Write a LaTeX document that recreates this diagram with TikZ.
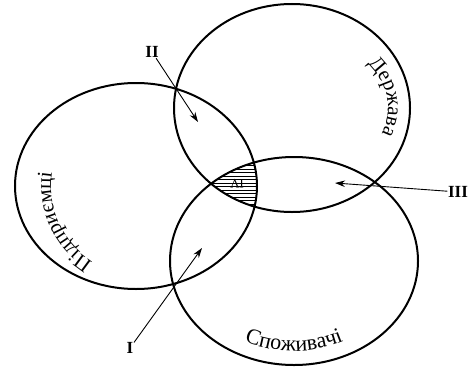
\documentclass[tikz,border=0pt]{standalone}
\usepackage{fontspec}
\setmainfont{Liberation Serif}
\usetikzlibrary{decorations.text,arrows.meta}
\begin{document}
\begin{tikzpicture}[x=1pt,y=1pt,
  venn/.style={line width=2pt},
  pointer/.style={line width=0.9pt,-{Stealth[length=10pt,width=6.5pt]}},
  numlabel/.style={font=\fontsize{17}{17}\selectfont\bfseries, inner sep=0.5pt},
  hatch/.style={line width=0.8pt}]
\useasboundingbox (0,0) rectangle (470,373);
\coordinate (c1) at (136,187);
\coordinate (c2) at (292,265);
\coordinate (c3) at (294,112);
% hatched common region
\begin{scope}
\clip (c1) ellipse [x radius=121, y radius=103];
\clip (c2) ellipse [x radius=118, y radius=104];
\clip (c3) ellipse [x radius=124, y radius=104];
\foreach \yy in {162,165.5,...,214} \draw[hatch] (200,\yy) -- (270,\yy);
\end{scope}
% ellipses
\draw[venn] (c1) ellipse [x radius=121, y radius=103];
\draw[venn] (c2) ellipse [x radius=118, y radius=104];
\draw[venn] (c3) ellipse [x radius=124, y radius=104];
% curved labels
\path[decorate, decoration={text along path, text align=center,
  text={|\fontsize{21}{21}\selectfont|Підприємці}}]
  ([shift={(248:85 and 88)}]c1) arc [start angle=248, end angle=163, x radius=85, y radius=88];
\path[decorate, decoration={text along path, text align=center,
  text={|\fontsize{21}{21}\selectfont|Держава}}]
  ([shift={(46:96 and 72)}]c2) arc [start angle=46, end angle=-30, x radius=96, y radius=72];
\path[decorate, decoration={text along path, text align=center,
  text={|\fontsize{22}{22}\selectfont|Споживачі}}]
  ([shift={(230:110 and 90)}]c3) arc [start angle=230, end angle=310, x radius=110, y radius=90];
% region IV
\node[rotate=180, font=\fontsize{13}{13}\selectfont, inner sep=0.5pt] (lIV) at (237,189) {IV};
% pointers
\node[numlabel] (lII) at (152,321) {II};
\coordinate (tII) at (198,251);
\draw[pointer] (lII) -- (tII);
\node[numlabel] (lI) at (130,25) {I};
\coordinate (tI) at (202,125);
\draw[pointer] (lI) -- (tI);
\node[numlabel] (lIII) at (458,181) {III};
\coordinate (tIII) at (335,190);
\draw[pointer] (lIII) -- (tIII);
\end{tikzpicture}
\end{document}
